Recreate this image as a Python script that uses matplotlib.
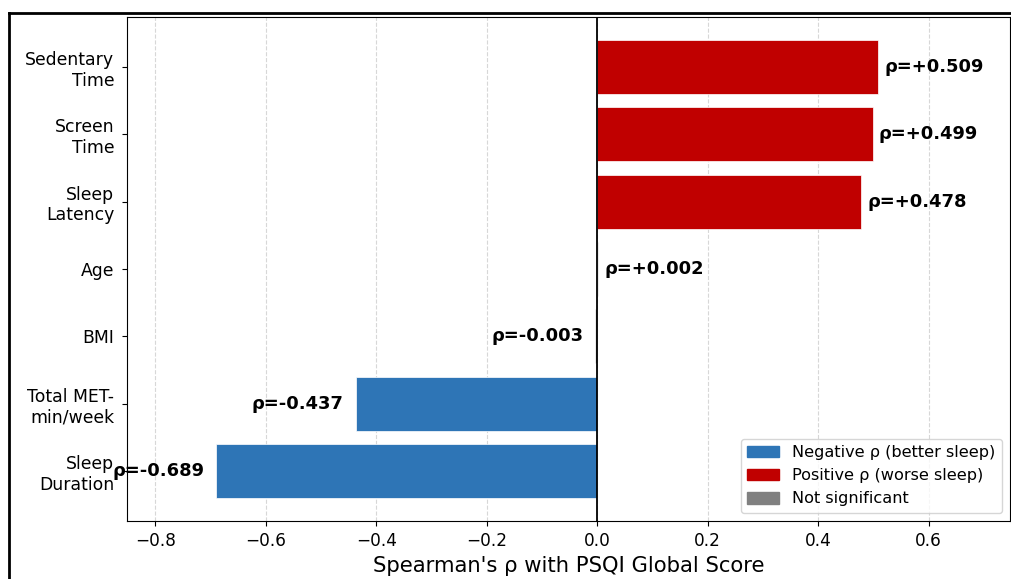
import matplotlib.pyplot as plt
from matplotlib.patches import Patch
from matplotlib.lines import Line2D

# Spearman correlations with PSQI global score
variables = ['Sedentary\nTime', 'Screen\nTime', 'Sleep\nLatency', 'Age', 'BMI',
             'Total MET-\nmin/week', 'Sleep\nDuration']
rho = [0.509, 0.499, 0.478, 0.002, -0.003, -0.437, -0.689]
significant = [True, True, True, False, False, True, True]

RED = '#c00000'
BLUE = '#2e75b6'
GRAY = '#808080'

colors = []
for r, s in zip(rho, significant):
    if not s:
        colors.append(GRAY)
    elif r < 0:
        colors.append(BLUE)
    else:
        colors.append(RED)

fig = plt.figure(figsize=(10.12, 5.79), dpi=100)
ax = fig.add_axes([127 / 1012, 1 - 521 / 579, (1010 - 127) / 1012, (521 - 17) / 579])

ypos = list(range(len(variables)))
ax.barh(ypos, rho, height=0.8, color=colors, edgecolor='white', linewidth=0.5)
ax.set_yticks(ypos)
ax.set_yticklabels(variables, fontsize=12.4)
ax.invert_yaxis()
ax.set_xlim(-0.851, 0.7475)
ax.tick_params(axis='x', labelsize=12.2, pad=4.5)
ax.tick_params(axis='y', pad=5.5)
ax.axvline(0, color='black', linewidth=1.3)
ax.grid(axis='x', linestyle='--', alpha=0.5)
ax.set_axisbelow(True)

for y, r in zip(ypos, rho):
    if r >= 0:
        ax.text(r + 0.011, y, f'\u03c1=+{r:.3f}', ha='left', va='center',
                fontsize=12.9, fontweight='bold')
    else:
        ax.text(r - 0.022, y, f'\u03c1={r:.3f}', ha='right', va='center',
                fontsize=12.9, fontweight='bold')

ax.set_xlabel("Spearman's \u03c1 with PSQI Global Score", fontsize=15.2, labelpad=4)

handles = [Patch(color=BLUE, label='Negative \u03c1 (better sleep)'),
           Patch(color=RED, label='Positive \u03c1 (worse sleep)'),
           Patch(color=GRAY, label='Not significant')]
ax.legend(handles=handles, loc='lower right', fontsize=11.6)

# outer frame of the original figure (cropped)
bx, by = 9 / 1012, 1 - 13 / 579
fig.add_artist(Line2D([bx, 1.01], [by, by], color='black', linewidth=2, transform=fig.transFigure))
fig.add_artist(Line2D([bx, bx], [by, -0.01], color='black', linewidth=2, transform=fig.transFigure))

fig.savefig('out.png', dpi=100)
